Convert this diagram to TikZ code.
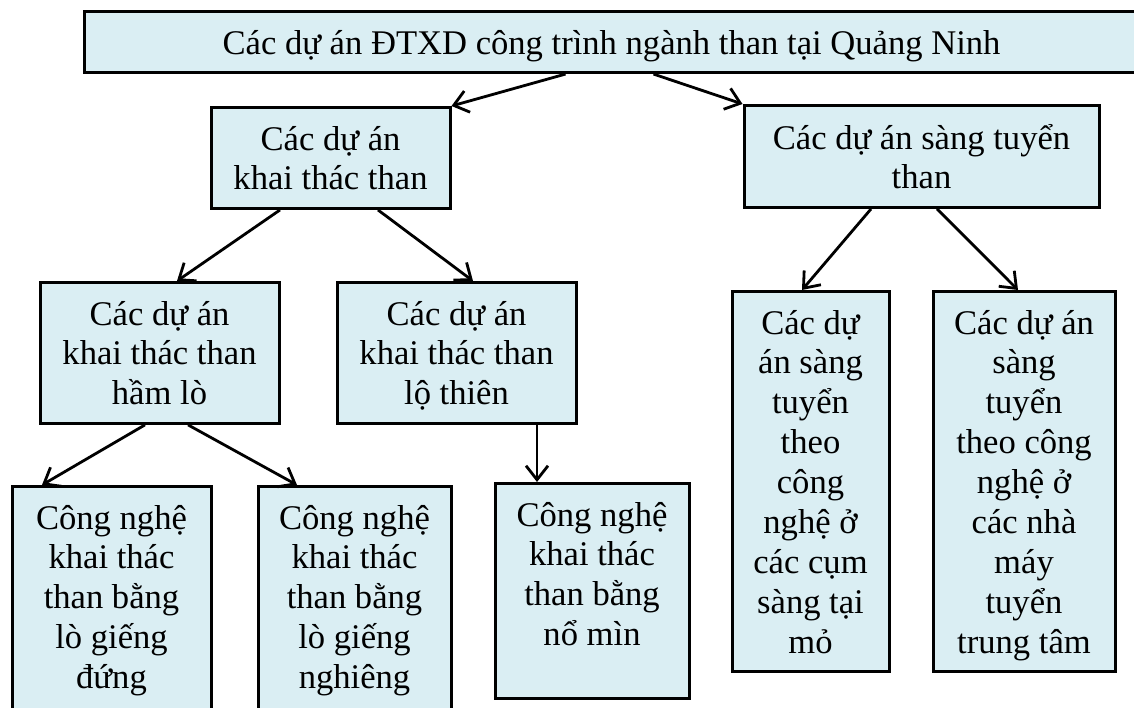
\documentclass[tikz,border=0pt]{standalone}
\usepackage{fontspec}
\setmainfont{Liberation Serif}
\usepackage{tikz}
\usetikzlibrary{arrows.meta}
\definecolor{boxfill}{HTML}{DAEEF3}

\begin{document}
\begin{tikzpicture}[
    x=1pt, y=-1pt,
    >={Straight Barb[length=14pt, width=22pt]},
    box/.style={
        rectangle, draw, fill=boxfill, line width=3pt,
        anchor=north, align=center,
        inner xsep=3pt, inner ysep=18.5pt, text depth=0pt,
        font=\fontsize{34.6}{39.9}\selectfont
    },
    arr/.style={->, line width=2.8pt}
]
\useasboundingbox (0,0) rectangle (1134,708);
\node[box, minimum width=1055pt] (top) at (611.5,10) {Các dự án ĐTXD công trình ngành than tại Quảng Ninh};
\node[box, minimum width=239pt] (khai) at (330.5,106) {Các dự án\\khai thác than};
\node[box, minimum width=355pt] (sang) at (921.5,104) {Các dự án sàng tuyển\\than};
\node[box, minimum width=239pt] (hamlo) at (159.5,281) {Các dự án\\khai thác than\\hầm lò};
\node[box, minimum width=239pt] (lothien) at (456.5,281) {Các dự án\\khai thác than\\lộ thiên};
\node[box, minimum width=199pt, text depth=50pt] (dung) at (111.5,485) {Công nghệ\\khai thác\\than bằng\\lò giếng\\đứng};
\node[box, minimum width=193pt, text depth=50pt] (nghieng) at (354.5,485) {Công nghệ\\khai thác\\than bằng\\lò giếng\\nghiêng};
\node[box, minimum width=194pt, text depth=34pt] (nomin) at (592,482) {Công nghệ\\khai thác\\than bằng\\nổ mìn};
\node[box, minimum width=157pt] (cum) at (810.5,290) {Các dự\\án sàng\\tuyển\\theo\\công\\nghệ ở\\các cụm\\sàng tại\\mỏ};
\node[box, minimum width=182pt] (nhamay) at (1024,290) {Các dự án\\sàng\\tuyển\\theo công\\nghệ ở\\các nhà\\máy\\tuyển\\trung tâm};
\draw[arr] ([xshift=-46pt]top.south) -- (khai.north east);
\draw[arr] ([xshift=42pt]top.south) -- (sang.north west);
\draw[arr] ([xshift=-50.5pt]khai.south) -- ([xshift=17.5pt]hamlo.north);
\draw[arr] ([xshift=47.5pt]khai.south) -- ([xshift=16.5pt]lothien.north);
\draw[arr] ([xshift=-14.5pt]hamlo.south) -- ([xshift=-69.5pt]dung.north);
\draw[arr] ([xshift=28.5pt]hamlo.south) -- ([xshift=-57.5pt]nghieng.north);
\draw[arr] ([xshift=80.5pt]lothien.south) -- ([xshift=-55pt]nomin.north);
\draw[arr] ([xshift=-50.5pt]sang.south) -- ([xshift=-8.5pt]cum.north);
\draw[arr] ([xshift=15.5pt]sang.south) -- ([xshift=-6pt]nhamay.north);
\end{tikzpicture}
\end{document}
